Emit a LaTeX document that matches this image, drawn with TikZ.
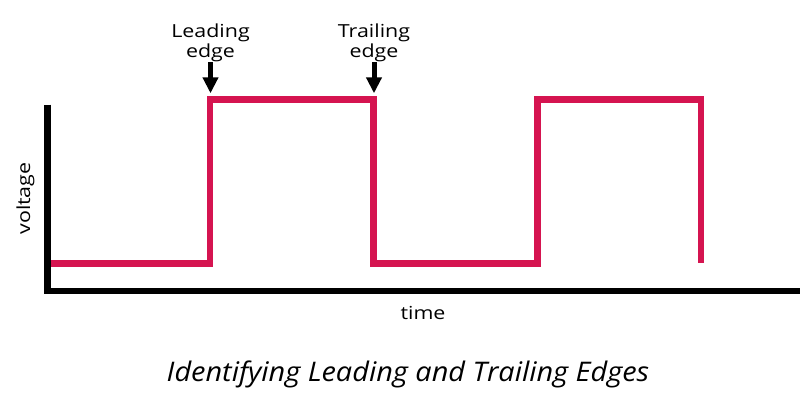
\documentclass[tikz,border=0pt]{standalone}
\usepackage{fontspec}
\setmainfont{Open Sans}
\newfontfamily\lblfont[FakeStretch=1.19]{Open Sans}
\newfontfamily\capfont[FakeStretch=1.07,ItalicFont={Open Sans Italic}]{Open Sans}
\usetikzlibrary{arrows.meta}
\definecolor{sig}{RGB}{213,20,80}
\begin{document}
\begin{tikzpicture}[x=1pt,y=-1pt,
  axisline/.style={line width=6.4pt,black,line join=miter},
  sigline/.style={line width=6.8pt,sig,line join=miter},
  pointer/.style={line width=5pt,-{Triangle[width=15pt,length=16pt]}},
  lbl/.style={inner sep=0pt,font=\lblfont\fontsize{18}{20}\selectfont,align=center}]
\useasboundingbox (0,0) rectangle (811,408);
\fill[white] (0,0) rectangle (811,408);
% axes
\coordinate (ytop) at (47.5,104.5);
\coordinate (origin) at (47.5,290.7);
\coordinate (xend) at (800,290.7);
\draw[axisline] (ytop) -- (origin) -- (xend);
% signal
\coordinate (s0) at (50.7,263.3);
\coordinate (le1) at (210,263.3);
\coordinate (le2) at (210,99.3);
\coordinate (te1) at (373.5,99.3);
\coordinate (te2) at (373.5,263.3);
\coordinate (le3) at (537.3,263.3);
\coordinate (le4) at (537.3,99.3);
\coordinate (te3) at (701,99.3);
\coordinate (te4) at (701,263.3);
\draw[sigline] (s0) -- (le1) -- (le2) -- (te1) -- (te2) -- (le3) -- (le4) -- (te3) -- (te4);
% labels
\node[lbl,anchor=south] (lead) at (210.5,62) {Leading\\edge};
\node[lbl,anchor=south] (trail) at (374,62) {Trailing\\edge};
\coordinate (leadtip) at (210.5,93.3);
\coordinate (trailtip) at (374,93.3);
\draw[pointer] (lead.south) -- (leadtip);
\draw[pointer] (trail.south) -- (trailtip);
\node[lbl,rotate=90] (volt) at (25.5,198.5) {voltage};
\node[lbl,anchor=base] (time) at (423,319) {time};
\node[inner sep=0pt,anchor=base,font=\capfont\itshape\fontsize{27}{30}\selectfont] (cap) at (408,381.7) {Identifying Leading and Trailing Edges};
\end{tikzpicture}
\end{document}
